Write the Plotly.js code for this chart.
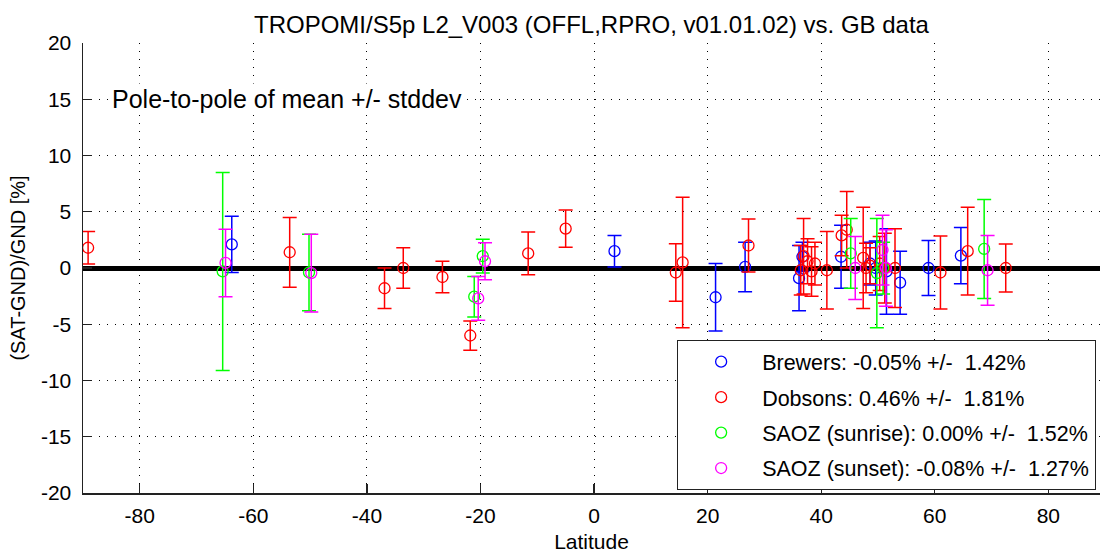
<!DOCTYPE html>
<html>
<head>
<meta charset="utf-8">
<script src="https://cdn.plot.ly/plotly-3.0.1.min.js"></script>
<style>html,body{margin:0;padding:0;background:#fff;}#chart{width:1100px;height:557px;}</style>
</head>
<body>
<div id="chart"></div>
<script>
// Brewers
var brewLat  = [-63.8, 3.6, 21.4, 26.6, 36.1, 36.7, 43.5, 48.6, 49.6, 51.5, 53.9, 58.9, 64.6];
var brewMean = [2.1, 1.5, -2.6, 0.1, -0.9, 1.0, 1.0, 0.4, 0.0, -0.3, -1.3, 0.0, 1.1];
var brewErr  = [2.5, 1.4, 3.0, 2.2, 2.9, 1.3, 2.8, 1.9, 2.4, 3.8, 2.8, 2.45, 2.5];
// Dobsons
var dobLat  = [-89.1, -53.6, -36.9, -33.6, -26.7, -21.8, -11.6, -5.0, 14.4, 15.6, 27.2, 36.4, 36.9, 37.6, 38.3, 38.9, 41.0, 43.6, 44.5, 47.4, 47.9, 48.6, 50.3, 51.2, 53.0, 61.0, 65.8, 72.5];
var dobMean = [1.8, 1.4, -1.8, 0.0, -0.8, -6.0, 1.3, 3.5, -0.4, 0.5, 2.0, -0.2, 1.05, 0.6, -0.3, 0.4, -0.2, 2.9, 3.4, 0.9, 0.0, 0.2, 0.4, 0.0, 0.0, -0.4, 1.5, 0.0];
var dobErr  = [1.45, 3.1, 1.8, 1.8, 1.4, 1.3, 1.9, 1.65, 2.55, 5.8, 2.35, 2.2, 3.35, 2.0, 2.2, 1.9, 3.45, 1.8, 3.4, 4.5, 2.2, 1.6, 2.4, 3.1, 3.5, 3.25, 3.9, 2.13];
// SAOZ sunrise
var riseLat  = [-65.4, -50.2, -21.1, -19.6, 45.2, 49.8, 50.9, 68.7];
var riseMean = [-0.3, -0.4, -2.55, 1.05, 1.3, -0.45, 0.0, 1.7];
var riseErr  = [8.8, 3.4, 1.8, 1.5, 3.1, 4.85, 2.3, 4.4];
// SAOZ sunset
var setLat  = [-64.9, -49.8, -20.4, -19.2, 46.0, 50.8, 51.4, 69.3];
var setMean = [0.45, -0.45, -2.7, 0.6, 0.0, 1.6, 0.0, -0.2];
var setErr  = [3.0, 3.45, 1.95, 1.65, 2.8, 3.1, 3.4, 3.1];

var legendNames = [
  'Brewers: -0.05% +/-  1.42%',
  'Dobsons: 0.46% +/-  1.81%',
  'SAOZ (sunrise): 0.00% +/-  1.52%',
  'SAOZ (sunset): -0.08% +/-  1.27%'
];
var xTicks = [-80, -60, -40, -20, 0, 20, 40, 60, 80];
var yTicks = [-20, -15, -10, -5, 0, 5, 10, 15, 20];

var FONT = 'Liberation Sans, Arial, sans-serif';

function series(x, y, e, color, name, grp) {
  return {
    type: 'scatter', mode: 'markers', x: x, y: y, name: name,
    legendgroup: grp,
    marker: {symbol: 'circle-open', size: 11, color: color, line: {width: 1.3, color: color}},
    error_y: {type: 'data', array: e, symmetric: true, color: color, thickness: 1.5, width: 7},
    hoverinfo: 'x+y'
  };
}

var data = [
  series(brewLat, brewMean, brewErr, '#0000ff', legendNames[0], 'a'),
  series(dobLat, dobMean, dobErr, '#ff0000', legendNames[1], 'b'),
  series(riseLat, riseMean, riseErr, '#00ff00', legendNames[2], 'c'),
  series(setLat, setMean, setErr, '#ff00ff', legendNames[3], 'd')
];

var layout = {
  width: 1100, height: 557,
  margin: {l: 83, r: 0, t: 43, b: 64, pad: 0},
  paper_bgcolor: '#ffffff', plot_bgcolor: '#ffffff',
  font: {family: FONT, size: 20, color: '#000'},
  title: {text: 'TROPOMI/S5p L2_V003 (OFFL,RPRO, v01.01.02) vs. GB data', font: {family: FONT, size: 24, color: '#000'}, x: 0.5, xref: 'paper', y: 0.955, yanchor: 'middle'},
  xaxis: {
    range: [-90, 89.1], tickvals: xTicks, ticktext: xTicks.map(String),
    ticks: 'inside', ticklen: 9, tickwidth: 1.2, tickcolor: '#222',
    showline: true, linecolor: '#222', linewidth: 1.5, mirror: false,
    showgrid: true, gridcolor: '#000', gridwidth: 1, griddash: '1px,7px',
    zeroline: false, ticklabelstandoff: 3,
    title: {text: 'Latitude', font: {family: FONT, size: 21}, standoff: 8},
    tickfont: {family: FONT, size: 21}
  },
  yaxis: {
    range: [-20, 20], tickvals: yTicks, ticktext: yTicks.map(String),
    ticks: 'inside', ticklen: 9, tickwidth: 1.2, tickcolor: '#222',
    showline: true, linecolor: '#222', linewidth: 1.5, mirror: false,
    showgrid: true, gridcolor: '#000', gridwidth: 1, griddash: '1px,7px',
    zeroline: true, zerolinecolor: '#000', zerolinewidth: 5,
    ticklabelstandoff: 6,
    title: {text: '(SAT-GND)/GND [%]', font: {family: FONT, size: 20}, standoff: 10},
    tickfont: {family: FONT, size: 21}
  },
  showlegend: true,
  legend: {
    x: 0.584, y: 0.34, xanchor: 'left', yanchor: 'top',
    bgcolor: '#ffffff', bordercolor: '#222', borderwidth: 1.2,
    font: {family: FONT, size: 21.5, color: '#000'},
    tracegroupgap: 4.5, itemwidth: 72, indentation: 2
  },
  annotations: [{
    x: -85.3, y: 15.0, xref: 'x', yref: 'y', xanchor: 'left', yanchor: 'middle',
    text: 'Pole-to-pole of mean +/- stddev', showarrow: false,
    font: {family: FONT, size: 25, color: '#000'}, bgcolor: '#ffffff'
  }]
};

Plotly.newPlot('chart', data, layout, {displayModeBar: false, staticPlot: true});
</script>
</body>
</html>
